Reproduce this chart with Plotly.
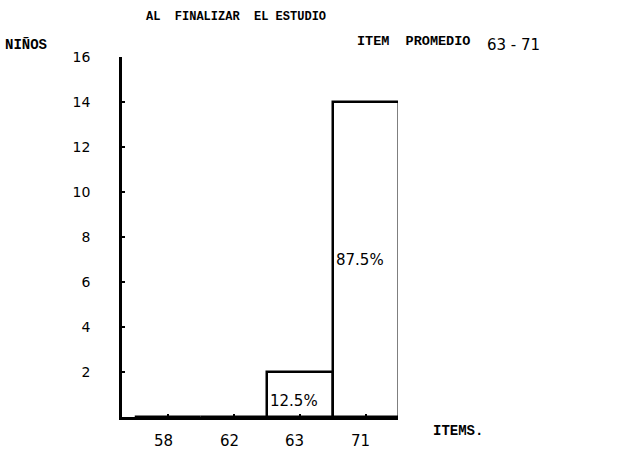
import plotly.graph_objects as go

# ---- data ----
categories = ["58", "62", "63", "71"]
ninos = [0, 0, 2, 14]
percent_labels = ["", "", "12.5%", "87.5%"]
y_ticks = [2, 4, 6, 8, 10, 12, 14, 16]

title_text = "AL  FINALIZAR  EL ESTUDIO"
y_title = "NIÑOS"
x_title = "ITEMS."
note_text = "ITEM  PROMEDIO"
note_range = "63 - 71"

W, H = 618, 454
L, R, T, B = 122, 398, 57, 417  # plot area in pixels


def px(x):
    return (x - L) / (R - L)


def py(y):
    return (B - y) / (B - T)


positions = list(range(len(categories)))

fig = go.Figure()
fig.add_trace(go.Bar(
    x=positions, y=ninos, width=1.0,
    marker=dict(color="white", line=dict(color="black", width=2.5)),
    hoverinfo="skip", showlegend=False,
))

mono = "Liberation Mono"
sans = "DejaVu Sans"

annotations = [
    dict(text="<b>" + title_text + "</b>", x=px(144), y=py(17), xanchor="left", yanchor="middle",
         font=dict(family=mono, size=12, color="black")),
    dict(text="<b>" + y_title + "</b>", x=px(3), y=py(45), xanchor="left", yanchor="middle",
         font=dict(family=mono, size=14, color="black")),
    dict(text="<b>" + note_text + "</b>", x=px(355), y=py(42), xanchor="left", yanchor="middle",
         font=dict(family=mono, size=13.5, color="black")),
    dict(text=note_range, x=px(485), y=py(45), xanchor="left", yanchor="middle",
         font=dict(family=sans, size=15, color="black")),
    dict(text="<b>" + x_title + "</b>", x=px(431), y=py(431), xanchor="left", yanchor="middle",
         font=dict(family=mono, size=14, color="black")),
]
for i, (pos, lab) in enumerate(zip(positions, percent_labels)):
    if lab:
        yv = 0.7 if ninos[i] <= 2 else ninos[i] / 2
        annotations.append(dict(text=lab, x=pos - 0.5, y=yv, xref="x", yref="y",
                                xanchor="left", yanchor="middle", xshift=1,
                                font=dict(family=sans, size=15, color="black")))
for pos, cat in zip(positions, categories):
    annotations.append(dict(text=cat, x=pos, y=0, xref="x", yref="y",
                            xanchor="center", yanchor="middle", xshift=-5, yshift=-24,
                            font=dict(family=sans, size=15, color="black")))
for a in annotations:
    a.setdefault("xref", "paper")
    a.setdefault("yref", "paper")
    a["showarrow"] = False

fig.update_layout(
    width=W, height=H,
    margin=dict(l=L, r=W - R, t=T, b=H - B, pad=0),
    paper_bgcolor="white", plot_bgcolor="white",
    annotations=annotations,
    bargap=0,
)
fig.update_xaxes(
    range=[-0.697, 3.485], tickmode="array", tickvals=positions, showticklabels=False,
    showgrid=False, zeroline=False, showline=True, linecolor="black", linewidth=2.5,
    ticks="inside", ticklen=3, tickwidth=1.5, tickcolor="black",
)
fig.update_yaxes(
    range=[0, 16], tickmode="array", tickvals=y_ticks,
    showgrid=False, zeroline=False, showline=True, linecolor="black", linewidth=2.5,
    ticks="inside", ticklen=3, tickwidth=1.5, tickcolor="black",
    tickfont=dict(family=sans, size=14, color="black"), ticklabelstandoff=26,
)

fig.write_html("out.html", config={"displayModeBar": False},
               post_script="document.body.style.margin='0';")
